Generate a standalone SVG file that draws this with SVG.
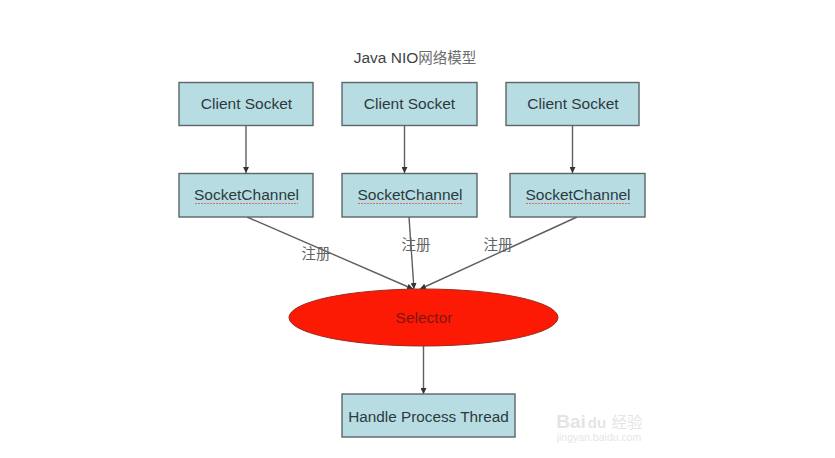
<svg xmlns="http://www.w3.org/2000/svg" width="835" height="458" viewBox="0 0 835 458">
<style>
text{font-family:"Liberation Sans","Noto Sans CJK SC",Arial,sans-serif;font-size:15.500px;fill:#2c3a40;text-anchor:middle}
.cjk{font-family:"Noto Sans CJK SC",sans-serif;font-size:14.500px;fill:#5f6466}
.box{fill:#b7dde2;stroke:#5c6668;stroke-width:1.400}
.wire{stroke:#5f5f5f;stroke-width:1.400;fill:none;marker-end:url(#arrow)}
.sq{fill:none;stroke:#dc6a64;stroke-width:1.200;stroke-dasharray:2 1}
</style>
<defs>
<marker id="arrow" markerUnits="userSpaceOnUse" markerWidth="7" markerHeight="6" refX="6" refY="3" orient="auto"><path d="M0 0L6 3L0 6Z" fill="#333"/></marker>
</defs>
<rect width="835" height="458" fill="#fff"/>
<text id="title" x="415" y="63" style="fill:#3d4346">Java NIO<tspan style="font-family:'Noto Sans CJK SC',sans-serif;font-size:14.500px;fill:#6a6e70">网络模型</tspan></text>
<g id="connectors">
<line class="wire" x1="246" y1="125" x2="246" y2="173"/>
<line class="wire" x1="404.500" y1="125" x2="404.500" y2="173"/>
<line class="wire" x1="572.500" y1="125" x2="572.500" y2="173"/>
<line class="wire" x1="247" y1="217" x2="413" y2="289"/>
<line class="wire" x1="409" y1="217" x2="414" y2="289"/>
<line class="wire" x1="577" y1="217" x2="420" y2="289"/>
<line class="wire" x1="423.500" y1="346" x2="423.500" y2="394"/>
</g>
<g id="label-1"><text class="cjk" x="316" y="259">注册</text></g>
<g id="label-2"><text class="cjk" x="416" y="250">注册</text></g>
<g id="label-3"><text class="cjk" x="498" y="250">注册</text></g>
<g id="client1"><rect class="box" x="179" y="82.500" width="134" height="43"/><text x="246.500" y="109">Client Socket</text></g>
<g id="client2"><rect class="box" x="342" y="82.500" width="135" height="43"/><text x="409.500" y="109">Client Socket</text></g>
<g id="client3"><rect class="box" x="506" y="82.500" width="133" height="43"/><text x="573" y="109">Client Socket</text></g>
<g id="channel1"><rect class="box" x="179" y="173.500" width="134" height="43.500"/><text x="246.500" y="200">SocketChannel</text><path class="sq" d="M195 203.500H298"/></g>
<g id="channel2"><rect class="box" x="342" y="173.500" width="135" height="43.500"/><text x="410" y="200">SocketChannel</text><path class="sq" d="M358 203.500H462"/></g>
<g id="channel3"><rect class="box" x="510" y="173.500" width="135" height="43.500"/><text x="578" y="200">SocketChannel</text><path class="sq" d="M526 203.500H630"/></g>
<g id="selector"><ellipse cx="423.500" cy="317.500" rx="134.500" ry="28.500" fill="#fd1a05" stroke="#9c2a20" stroke-width="1"/><text x="424" y="323" style="fill:#7e1610">Selector</text></g>
<g id="handler"><rect class="box" x="342" y="394" width="173" height="43"/><text x="428.500" y="421.500" style="font-size:15.300px">Handle Process Thread</text></g>
<g id="watermark" opacity="0.35"><text x="571" y="428" style="font-size:19px;fill:#b5b5b5;font-weight:bold">Bai</text><text x="597" y="428" style="font-size:15px;fill:#b5b5b5;font-weight:bold">du</text><text x="627" y="428" style="font-size:15.500px;fill:#b5b5b5;font-family:'Noto Sans CJK SC',sans-serif">经验</text><text x="599" y="441" style="font-size:10.500px;fill:#b5b5b5">jingyan.baidu.com</text></g>
</svg>
